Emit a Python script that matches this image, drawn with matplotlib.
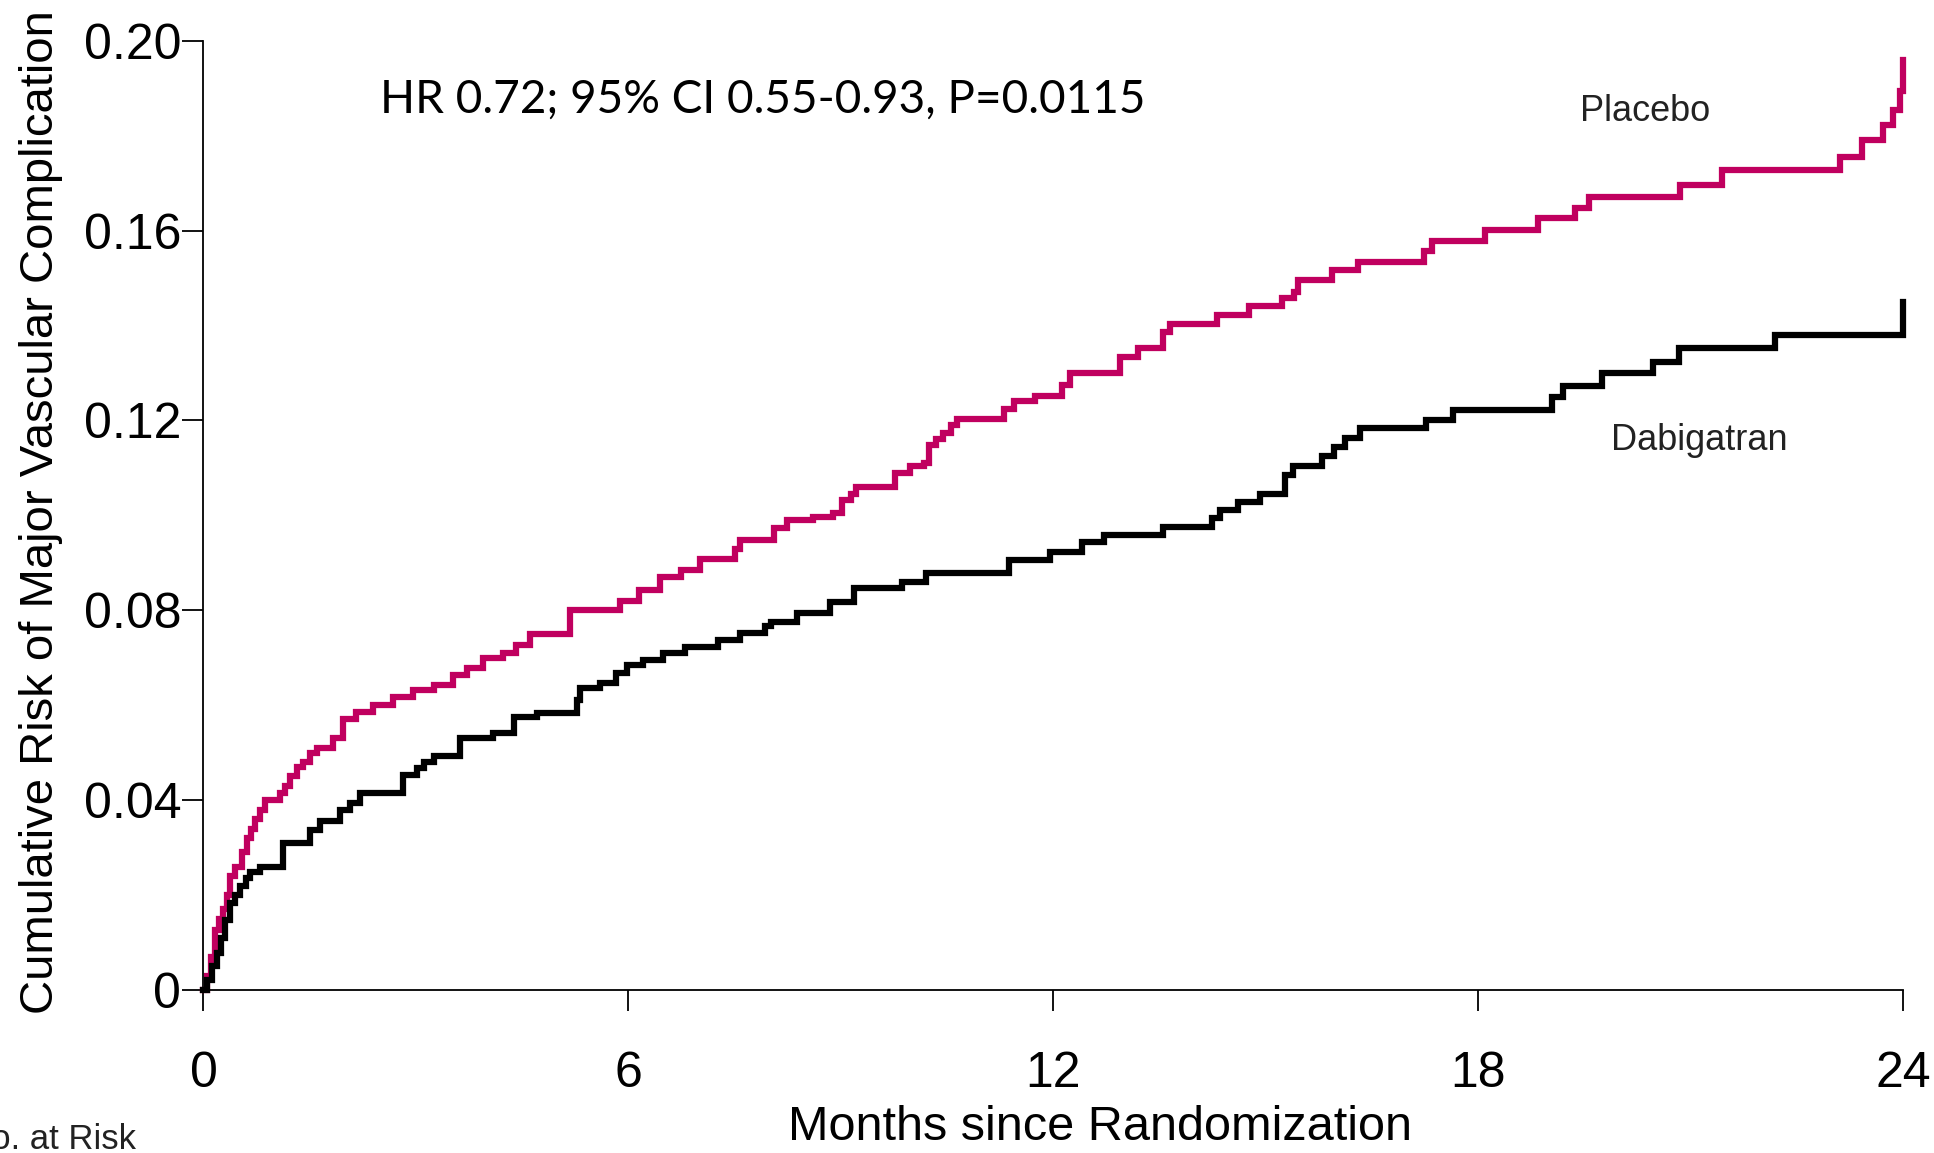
import matplotlib
matplotlib.use("Agg")
import matplotlib.pyplot as plt

# Kaplan-Meier style cumulative risk
placebo_t = [0.00, 0.05, 0.10, 0.16, 0.22, 0.28, 0.33, 0.37, 0.45, 0.54,
             0.61, 0.67, 0.73, 0.80, 0.87, 1.08, 1.15, 1.22, 1.32, 1.41,
             1.50, 1.60, 1.83, 1.97, 2.16, 2.40, 2.68, 2.96, 3.25, 3.53,
             3.72, 3.95, 4.23, 4.42, 4.61, 5.18, 5.88, 6.15, 6.45, 6.75,
             7.01, 7.50, 7.58, 8.05, 8.24, 8.61, 8.89, 9.01, 9.15, 9.22,
             9.77, 9.98, 10.17, 10.24, 10.35, 10.45, 10.55, 10.64, 11.30, 11.45,
             11.74, 12.12, 12.24, 12.94, 13.20, 13.55, 13.65, 14.31, 14.76, 15.23,
             15.40, 15.46, 15.93, 16.31, 17.23, 17.35, 18.10, 18.85, 19.37, 19.56,
             20.85, 21.44, 23.11, 23.42, 23.72, 23.86, 23.96, 24.00]
placebo_v = [0.000, 0.003, 0.007, 0.0126, 0.015, 0.017, 0.020, 0.024, 0.026, 0.029,
             0.032, 0.034, 0.036, 0.038, 0.040, 0.0414, 0.043, 0.045, 0.047, 0.048,
             0.050, 0.051, 0.053, 0.057, 0.0586, 0.060, 0.0618, 0.0632, 0.0643, 0.0664,
             0.0678, 0.070, 0.0709, 0.0727, 0.075, 0.080, 0.082, 0.0843, 0.0871, 0.0885,
             0.0909, 0.093, 0.0948, 0.0973, 0.0990, 0.0997, 0.1004, 0.1032, 0.1046, 0.1060,
             0.1089, 0.1103, 0.1110, 0.1148, 0.116, 0.1173, 0.119, 0.1204, 0.1225, 0.1240,
             0.1251, 0.1275, 0.1300, 0.1334, 0.1352, 0.1387, 0.1404, 0.1422, 0.1440, 0.1457,
             0.1470, 0.1496, 0.1517, 0.1534, 0.1556, 0.1577, 0.1601, 0.1626, 0.1647, 0.1671,
             0.1696, 0.1728, 0.1756, 0.1791, 0.1822, 0.1854, 0.1893, 0.1960]

dabi_t = [0.00, 0.05, 0.12, 0.19, 0.25, 0.30, 0.37, 0.45, 0.52, 0.60,
          0.66, 0.80, 1.13, 1.50, 1.65, 1.93, 2.07, 2.21, 2.82, 3.01,
          3.12, 3.25, 3.62, 4.09, 4.38, 4.71, 5.28, 5.32, 5.60, 5.83,
          5.98, 6.21, 6.49, 6.80, 7.27, 7.58, 7.93, 8.02, 8.38, 8.85,
          9.18, 9.86, 10.21, 11.37, 11.95, 12.40, 12.71, 13.55, 14.24, 14.36,
          14.61, 14.92, 15.27, 15.39, 15.79, 15.96, 16.12, 16.33, 17.27, 17.65,
          19.04, 19.20, 19.75, 20.47, 20.83, 22.19, 24.00]
dabi_v = [0.000, 0.002, 0.005, 0.0077, 0.011, 0.0147, 0.0183, 0.020, 0.0218, 0.0235,
          0.0249, 0.0260, 0.0309, 0.0337, 0.0355, 0.0379, 0.0393, 0.0414, 0.0453, 0.0467,
          0.048, 0.0492, 0.0530, 0.0541, 0.0576, 0.0583, 0.061, 0.0636, 0.0646, 0.0667,
          0.0685, 0.0695, 0.0709, 0.0723, 0.0737, 0.0752, 0.0766, 0.0776, 0.0794, 0.0818,
          0.0846, 0.0860, 0.0878, 0.0906, 0.0923, 0.0944, 0.0959, 0.0976, 0.0994, 0.1011,
          0.1029, 0.1046, 0.1085, 0.1103, 0.1124, 0.1145, 0.1162, 0.1183, 0.1201, 0.1222,
          0.1250, 0.1273, 0.1299, 0.1324, 0.1352, 0.1380, 0.1450]

xticks = [0, 6, 12, 18, 24]
yticks = [0, 0.04, 0.08, 0.12, 0.16, 0.20]
ytick_labels = ["0", "0.04", "0.08", "0.12", "0.16", "0.20"]

ARIAL = "Liberation Sans"
MAGENTA = "#C0005F"

fig = plt.figure(figsize=(19.34, 11.53), dpi=100)
ax = fig.add_axes([0.1052, 0.1414, 0.8788, 0.8233])

ax.step(placebo_t, placebo_v, where="post", color=MAGENTA, lw=4.5,
        solid_joinstyle="miter", clip_on=False)
ax.step(dabi_t, dabi_v, where="post", color="black", lw=4.5,
        solid_joinstyle="miter", clip_on=False)

ax.set_xlim(0, 24)
ax.set_ylim(0, 0.20)
for s in ["top", "right"]:
    ax.spines[s].set_visible(False)
for s in ["left", "bottom"]:
    ax.spines[s].set_linewidth(1.3)

ax.set_xticks(xticks)
ax.set_xticklabels([str(x) for x in xticks], fontsize=36, family=ARIAL)
ax.set_yticks(yticks)
ax.set_yticklabels(ytick_labels, fontsize=36, family=ARIAL)
ax.tick_params(axis="x", length=15, width=1.3, pad=29)
ax.tick_params(axis="y", length=15, width=1.3, pad=1)

fig.text(0.021, 0.556, "Cumulative Risk of Major Vascular Complication",
         rotation=90, ha="center", va="center", fontsize=34, family=ARIAL)
fig.text(0.569, 0.0217, "Months since Randomization", ha="center",
         va="center", fontsize=35, family=ARIAL)
# the reference crops this label at the left edge
fig.text(0.0705, 0.0035, "No. at Risk", ha="right", va="baseline",
         fontsize=25, family=ARIAL, color="#222222")

fig.text(0.1965, 0.902, "HR 0.72; 95% CI 0.55-0.93, P=0.0115", ha="left",
         va="baseline", fontsize=33, family="Lato")
ax.text(1580 / 1934, 1 - 120.7 / 1153, "Placebo", transform=fig.transFigure,
        ha="left", va="baseline", fontsize=26, family=ARIAL, color="#222222")
ax.text(1611 / 1934, 1 - 450 / 1153, "Dabigatran", transform=fig.transFigure,
        ha="left", va="baseline", fontsize=26, family=ARIAL, color="#222222")

fig.savefig("out.png", dpi=100)
